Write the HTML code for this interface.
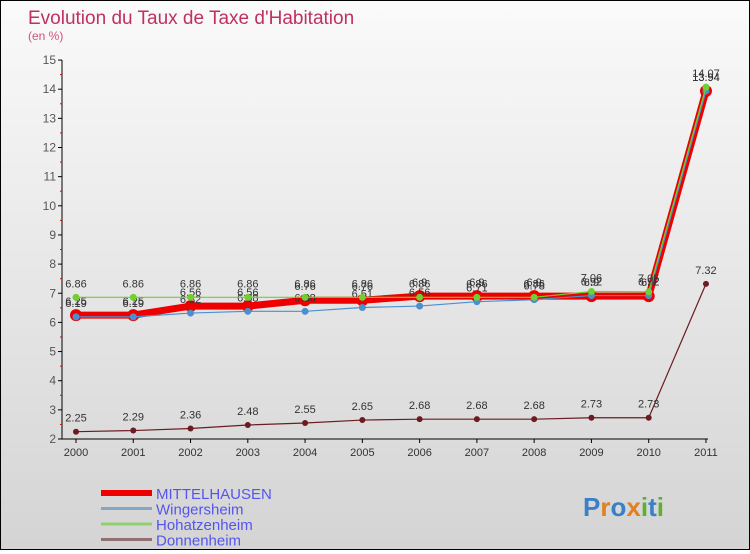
<!DOCTYPE html>
<html><head><meta charset="utf-8"><style>
body{margin:0;width:750px;height:550px;overflow:hidden;font-family:"Liberation Sans",sans-serif}
#wrap{position:relative;width:748px;height:548px;border:1px solid #000;background:linear-gradient(#fafafa,#d4d4d4)}
</style></head><body>
<div id="wrap">
<svg id="chart" width="748" height="548"></svg>
</div>
<script>
const years=["2000","2001","2002","2003","2004","2005","2006","2007","2008","2009","2010","2011"];
const mittelhausen=[6.25,6.25,6.56,6.56,6.76,6.76,6.9,6.9,6.9,6.9,6.9,13.94];
const wingersheim=[6.19,6.19,6.32,6.38,6.38,6.51,6.56,6.71,6.78,6.92,6.92,13.94];
const hohatzenheim=[6.86,6.86,6.86,6.86,6.86,6.86,6.86,6.86,6.86,7.06,7.05,14.07];
const donnenheim=[2.25,2.29,2.36,2.48,2.55,2.65,2.68,2.68,2.68,2.73,2.73,7.32];
const yTicks=[2,3,4,5,6,7,8,9,10,11,12,13,14,15];
const ns="http://www.w3.org/2000/svg";
const svg=document.getElementById('chart');
function X(i){return 75+i*57.27;}
function Y(v){return 438-(v-2)*29.15;}
function mk(t,a,p){const e=document.createElementNS(ns,t);for(const k in a)e.setAttribute(k,a[k]);(p||svg).appendChild(e);return e;}
let t=mk('text',{x:27,y:23,fill:'#c03060','font-size':19});t.textContent="Evolution du Taux de Taxe d'Habitation";

t=mk('text',{x:27,y:39,fill:'#d05080','font-size':12});t.textContent="(en %)";

let ax=mk('line',{x1:61,y1:Y(15),x2:61,y2:Y(2),stroke:'#000'});

ax=mk('line',{x1:61,y1:Y(2),x2:X(11)+2,y2:Y(2),stroke:'#000'});

yTicks.forEach(v=>{mk('line',{x1:57,x2:61,y1:Y(v),y2:Y(v),stroke:'#000'});
 if(v<15)mk('line',{x1:59,x2:61,y1:Y(v+0.5),y2:Y(v+0.5),stroke:'#e00'});
 const l=mk('text',{x:55,y:Y(v)+4,'text-anchor':'end','font-size':12,fill:'#555'});l.textContent=v;
 });
years.forEach((y,i)=>{mk('line',{x1:X(i),x2:X(i),y1:Y(2),y2:Y(2)+4,stroke:'#000'});
 const l=mk('text',{x:X(i),y:Y(2)+17,'text-anchor':'middle','font-size':11,fill:'#333'});l.textContent=y;
 });
function series(d,color,w,r,name){
 const g=mk('g',{});
 mk('polyline',{points:d.map((v,i)=>X(i)+','+Y(v)).join(' '),fill:'none',stroke:color,'stroke-width':w},g);
 d.forEach((v,i)=>{const c=mk('circle',{cx:X(i),cy:Y(v),r:r,fill:color},g);
  
  const l=mk('text',{x:X(i),y:Y(v)-10,'text-anchor':'middle','font-size':11,fill:'#333'},g);l.textContent=v;});
}
series(mittelhausen,'#ee0000',7,6,'mittelhausen');
series(wingersheim,'#4a90d0',1.2,3.5,'wingersheim');
series(hohatzenheim,'#70d030',1.2,3.5,'hohatzenheim');
series(donnenheim,'#6b1c22',1.2,3,'donnenheim');
const leg=[["MITTELHAUSEN",'#ee0000',6],["Wingersheim",'#80a8c8',3],["Hohatzenheim",'#90d070',3],["Donnenheim",'#907070',3]];
leg.forEach((e,i)=>{const y=492+i*15.5;
 mk('line',{x1:100,x2:151,y1:y,y2:y,stroke:e[1],'stroke-width':e[2]});
 const l=mk('text',{x:155,y:y+6,'font-size':15,fill:'#5555ee'});l.textContent=e[0];
 });
const brand=[["P",'#3a80c8'],["r",'#e08020'],["o",'#3a80c8'],["x",'#e08020'],["i",'#60b030'],["t",'#3a80c8'],["i",'#60b030']];
const bt=mk('text',{x:582,y:515,'font-size':26,'font-weight':'bold'});

brand.forEach(b=>{const s=mk('tspan',{fill:b[1]},bt);s.textContent=b[0];});
</script>
</body></html>
